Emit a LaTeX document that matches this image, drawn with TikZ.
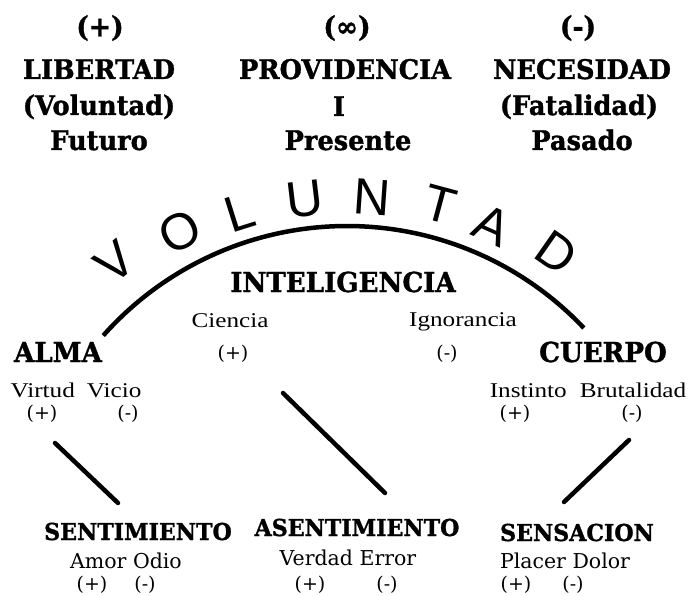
\documentclass[tikz,border=0pt]{standalone}
\usepackage{fontspec}
\newfontfamily\hdfont{DejaVu Serif}
\newfontfamily\hdheavy{DejaVu Serif}[BoldFeatures={FakeBold=1.2,FakeStretch=0.95}]
\newfontfamily\lbfont{Liberation Serif}[FakeStretch=1.2]
\newfontfamily\arcfont{Liberation Sans}
\tikzset{
  toprow/.style={font=\hdheavy\bfseries\fontsize{27}{27}\selectfont, anchor=base, inner sep=0pt},
  topsign/.style={font=\hdheavy\bfseries\fontsize{28}{28}\selectfont, inner sep=0pt},
  head/.style={font=\hdheavy\bfseries\fontsize{27.5}{27.5}\selectfont, anchor=base, inner sep=0pt},
  bothead/.style={font=\hdheavy\bfseries\fontsize{23.3}{23.3}\selectfont, anchor=base, inner sep=0pt},
  sublbl/.style={font=\lbfont\fontsize{21}{21}\selectfont, anchor=base, inner sep=0pt},
  botlbl/.style={font=\hdfont\fontsize{20.5}{20.5}\selectfont, anchor=base, inner sep=0pt},
  sign/.style={font=\hdfont\fontsize{19}{19}\selectfont, inner sep=0pt},
  arcletter/.style={font=\arcfont\fontsize{51}{51}\selectfont, inner sep=0pt},
  bar/.style={line width=4.5pt, line cap=round},
}
\begin{document}
\begin{tikzpicture}[x=1pt,y=1pt]
\useasboundingbox (0,0) rectangle (699,-596);
% top columns
\node[topsign] (s1) at (100,-28) {(+)};
\node[toprow] (lib) at (99,-79) {LIBERTAD};
\node[toprow] (vol) at (99,-115) {(Voluntad)};
\node[toprow] (fut) at (99,-150) {Futuro};
\node[topsign] (s2) at (347,-28) {(∞)};
\node[toprow] (prov) at (345,-79) {PROVIDENCIA};
\node[toprow] (iii) at (339,-116) {I};
\node[toprow] (pres) at (348,-150) {Presente};
\node[topsign] (s3) at (578,-28) {(-)};
\node[toprow] (nec) at (582,-79) {NECESIDAD};
\node[toprow] (fat) at (579,-115) {(Fatalidad)};
\node[toprow] (pas) at (582,-150) {Pasado};
% arc
\coordinate (c) at (347,-552);
\coordinate (arcL) at ([shift={(138.4:326)}]c);
\coordinate (arcR) at ([shift={(43.4:326)}]c);
\draw[line width=4.5pt] (arcL) arc[start angle=138.4, end angle=43.4, radius=326];
% VOLUNTAD
\node[arcletter, rotate=38.7] (v1) at ([shift={(128.7:371)}]c) {V};
\node[arcletter, rotate=27.6] (v2) at ([shift={(117.6:361)}]c) {O};
\node[arcletter, rotate=17.5] (v3) at ([shift={(107.5:355.5)}]c) {L};
\node[arcletter, rotate=6.8] (v4) at ([shift={(96.8:355.5)}]c) {U};
\node[arcletter, rotate=-4] (v5) at ([shift={(86:356)}]c) {N};
\node[arcletter, rotate=-15] (v6) at ([shift={(75:360)}]c) {T};
\node[arcletter, rotate=-24] (v7) at ([shift={(66:358)}]c) {A};
\node[arcletter, rotate=-34.9] (v8) at ([shift={(55.1:365.6)}]c) {D};
% middle
\node[head] (int) at (343,-292) {INTELIGENCIA};
\node[sublbl] (cie) at (230,-327) {Ciencia};
\node[sublbl] (ign) at (463,-326) {Ignorancia};
\node[sign] (cp) at (233,-354) {(+)};
\node[sign] (im) at (447,-354) {(-)};
\node[head] (alma) at (58,-362) {ALMA};
\node[sublbl] (vv) at (76,-397) {Virtud\hspace{12pt}Vicio};
\node[sign] (vp) at (42,-414) {(+)};
\node[sign] (vm) at (128,-414) {(-)};
\node[head] (cue) at (603,-362) {CUERPO};
\node[sublbl] (ib) at (588,-397) {Instinto\hspace{13pt}Brutalidad};
\node[sign] (ip) at (515,-414) {(+)};
\node[sign] (bm) at (632,-414) {(-)};
% bottom
\node[bothead] (sent) at (138,-540) {SENTIMIENTO};
\node[botlbl] (ao) at (126,-568) {Amor Odio};
\node[sign] (ap) at (92,-585) {(+)};
\node[sign] (om) at (145,-585) {(-)};
\node[bothead] (asen) at (357,-536) {ASENTIMIENTO};
\node[botlbl] (ve) at (348,-565) {Verdad Error};
\node[sign] (vdp) at (310,-585) {(+)};
\node[sign] (erm) at (387,-585) {(-)};
\node[bothead] (sens) at (577,-541) {SENSACION};
\node[botlbl] (pd) at (565,-568) {Placer Dolor};
\node[sign] (pp) at (516,-585) {(+)};
\node[sign] (dm) at (573,-585) {(-)};
% connectors
\coordinate (a1) at (55,-443); \coordinate (a2) at (118,-503);
\coordinate (b1) at (283,-393); \coordinate (b2) at (385,-493);
\coordinate (c1) at (629,-440); \coordinate (c2) at (564,-502);
\draw[bar] (a1) -- (a2);
\draw[bar] (b1) -- (b2);
\draw[bar] (c1) -- (c2);
\end{tikzpicture}
\end{document}
